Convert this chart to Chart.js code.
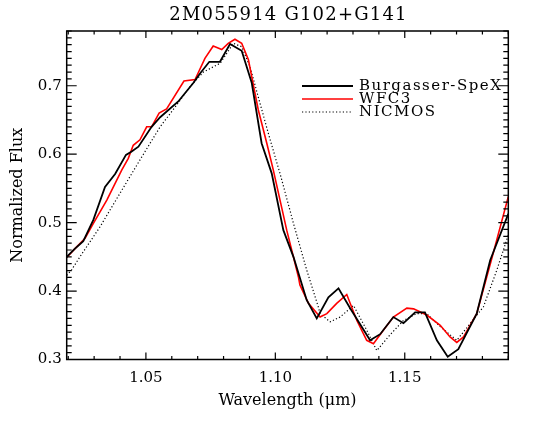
<!DOCTYPE html>
<html>
<head>
<meta charset="utf-8">
<script src="https://cdn.jsdelivr.net/npm/chart.js@4"></script>
<style>
  html, body { margin: 0; padding: 0; background: #fff; }
  #wrap { width: 538px; height: 423px; }
</style>
</head>
<body>
<div id="wrap"><canvas id="c" width="538" height="423"></canvas></div>
<script>
// ---- data ----
const chartTitle = "2M055914 G102+G141";
const seriesNames = ["Burgasser-SpeX", "WFC3", "NICMOS"];

const wlSpex = [1.0194,1.0226,1.0258,1.0297,1.0342,1.0381,1.0423,1.0445,1.0471,1.0522,1.0555,1.0625,1.0683,1.0709,1.0745,1.0786,1.0825,1.0870,1.0909,1.0947,1.0986,1.1031,1.1070,1.1121,1.1160,1.1205,1.1244,1.1289,1.1366,1.1405,1.1456,1.1495,1.1540,1.1578,1.1624,1.1666,1.1707,1.1778,1.1830,1.1900];
const fluxSpex = [0.450,0.462,0.473,0.504,0.552,0.571,0.599,0.604,0.611,0.640,0.654,0.677,0.704,0.718,0.735,0.735,0.761,0.751,0.704,0.616,0.572,0.489,0.450,0.387,0.360,0.391,0.404,0.375,0.328,0.337,0.362,0.353,0.369,0.369,0.328,0.304,0.315,0.367,0.445,0.513];

const wlWfc3 = [1.0194,1.0226,1.0265,1.0297,1.0349,1.0407,1.0432,1.0451,1.0477,1.0503,1.0522,1.0551,1.0580,1.0647,1.0690,1.0728,1.0760,1.0793,1.0818,1.0844,1.0870,1.0896,1.0934,1.0967,1.0992,1.1044,1.1089,1.1095,1.1128,1.1173,1.1199,1.1237,1.1276,1.1315,1.1353,1.1379,1.1418,1.1456,1.1508,1.1534,1.1585,1.1637,1.1675,1.1701,1.1727,1.1778,1.1843,1.1900];
const fluxWfc3 = [0.449,0.462,0.477,0.499,0.533,0.577,0.594,0.613,0.621,0.640,0.640,0.660,0.666,0.707,0.709,0.740,0.758,0.753,0.762,0.768,0.762,0.738,0.665,0.616,0.577,0.489,0.421,0.409,0.382,0.362,0.367,0.382,0.395,0.357,0.328,0.323,0.343,0.362,0.375,0.374,0.365,0.350,0.333,0.325,0.333,0.367,0.457,0.538];

const wlNicmos = [1.0194,1.0213,1.0245,1.0323,1.0400,1.0484,1.0555,1.0619,1.0671,1.0722,1.0787,1.0838,1.0870,1.0902,1.0941,1.0980,1.1018,1.1070,1.1121,1.1166,1.1173,1.1212,1.1250,1.1302,1.1353,1.1392,1.1443,1.1495,1.1546,1.1585,1.1637,1.1701,1.1804,1.1856,1.1900];
const fluxNicmos = [0.423,0.431,0.450,0.494,0.543,0.596,0.640,0.672,0.699,0.720,0.733,0.762,0.757,0.728,0.674,0.621,0.572,0.499,0.431,0.377,0.367,0.355,0.362,0.379,0.343,0.313,0.336,0.357,0.367,0.367,0.348,0.328,0.377,0.431,0.482];

const xRange = [1.0194, 1.19];
const yRange = [0.30, 0.78];
const xTickLabels = [1.05, 1.10, 1.15];
const yTickLabels = [0.3, 0.4, 0.5, 0.6, 0.7];
const xMinorStep = 0.01;
const yMinorStep = 0.01;

const xTitle = "Wavelength (\u03BCm)";
const yTitle = "Normalized Flux";

function pts(xs, ys) { return xs.map((x, i) => ({x: x, y: ys[i]})); }

const SERIF = "'DejaVu Serif', serif";

// ---- plugins ----
const framePlugin = {
  id: 'frame',
  afterDatasetsDraw(chart) {
    const ctx = chart.ctx;
    const a = chart.chartArea;
    const xs = chart.scales.x, ys = chart.scales.y;
    ctx.save();
    ctx.strokeStyle = '#000';
    ctx.lineWidth = 1.5;
    ctx.strokeRect(a.left, a.top, a.right - a.left, a.bottom - a.top);
    ctx.lineWidth = 1.2;
    ctx.beginPath();
    // x ticks (bottom & top, inward)
    const nx0 = Math.ceil(xRange[0] / xMinorStep - 1e-6), nx1 = Math.floor(xRange[1] / xMinorStep + 1e-6);
    for (let n = nx0; n <= nx1; n++) {
      const v = n * xMinorStep;
      const major = xTickLabels.some(t => Math.abs(t - v) < 1e-6);
      const px = xs.getPixelForValue(v);
      const len = major ? 7 : 3.5;
      ctx.moveTo(px, a.bottom); ctx.lineTo(px, a.bottom - len);
      ctx.moveTo(px, a.top); ctx.lineTo(px, a.top + len);
    }
    // y ticks (left & right, inward)
    const ny0 = Math.ceil(yRange[0] / yMinorStep - 1e-6), ny1 = Math.floor(yRange[1] / yMinorStep + 1e-6);
    for (let n = ny0; n <= ny1; n++) {
      const v = n * yMinorStep;
      const major = yTickLabels.some(t => Math.abs(t - v) < 1e-6);
      const py = ys.getPixelForValue(v);
      const len = major ? 10 : 5;
      ctx.moveTo(a.left, py); ctx.lineTo(a.left + len, py);
      ctx.moveTo(a.right, py); ctx.lineTo(a.right - len, py);
    }
    ctx.stroke();
    ctx.restore();
  },
  afterDraw(chart) {
    const ctx = chart.ctx;
    const a = chart.chartArea;
    ctx.save();
    // title
    ctx.fillStyle = '#000';
    ctx.font = "18px " + SERIF;
    try { ctx.letterSpacing = '1.2px'; } catch (e) {}
    ctx.textAlign = 'center';
    ctx.textBaseline = 'middle';
    ctx.fillText(chartTitle, (a.left + a.right) / 2 + 1, 15);
    // legend
    ctx.font = "15px " + SERIF;
    try { ctx.letterSpacing = '1.5px'; } catch (e) {}
    ctx.textAlign = 'left';
    const rows = [86, 99, 112];
    chart.data.datasets.forEach((ds, i) => {
      const y = rows[i];
      ctx.beginPath();
      ctx.strokeStyle = ds.borderColor;
      ctx.lineWidth = ds.borderWidth;
      ctx.setLineDash(ds.borderDash || []);
      ctx.moveTo(302, y); ctx.lineTo(353, y);
      ctx.stroke();
      ctx.setLineDash([]);
      ctx.fillStyle = '#000';
      ctx.fillText(ds.label, 359, y);
    });
    ctx.restore();
  }
};

new Chart(document.getElementById('c'), {
  type: 'line',
  data: {
    datasets: [
      { label: seriesNames[0], data: pts(wlSpex, fluxSpex), borderColor: '#000000', borderWidth: 1.8, pointRadius: 0, tension: 0, fill: false },
      { label: seriesNames[1], data: pts(wlWfc3, fluxWfc3), borderColor: '#ff0000', borderWidth: 1.6, pointRadius: 0, tension: 0, fill: false },
      { label: seriesNames[2], data: pts(wlNicmos, fluxNicmos), borderColor: '#000000', borderWidth: 1.2, borderDash: [1.2, 2.2], pointRadius: 0, tension: 0, fill: false }
    ]
  },
  options: {
    responsive: false,
    animation: false,
    devicePixelRatio: 1,
    layout: { padding: { left: 0, right: 29.7, top: 31, bottom: 0 } },
    plugins: { legend: { display: false }, title: { display: false }, tooltip: { enabled: false } },
    scales: {
      x: {
        type: 'linear',
        min: xRange[0], max: xRange[1],
        grid: { display: false, drawTicks: false },
        border: { display: false },
        afterBuildTicks(s) { s.ticks = xTickLabels.map(v => ({ value: v })); },
        afterFit(s) { s.height = 63.5; },
        ticks: {
          color: '#000', padding: 10, maxRotation: 0, autoSkip: false,
          font: { family: SERIF, size: 15 },
          callback: v => Number(v).toFixed(2)
        },
        title: { display: true, text: xTitle, color: '#000', font: { family: SERIF, size: 16 }, padding: { top: 0, bottom: 13 } }
      },
      y: {
        type: 'linear',
        min: yRange[0], max: yRange[1],
        grid: { display: false, drawTicks: false },
        border: { display: false },
        afterBuildTicks(s) { s.ticks = yTickLabels.map(v => ({ value: v })); },
        afterFit(s) { s.width = 66.7; },
        ticks: {
          color: '#000', padding: 5, autoSkip: false,
          font: { family: SERIF, size: 15 },
          callback: v => Number(v).toFixed(1)
        },
        title: { display: true, text: yTitle, color: '#000', font: { family: SERIF, size: 16 }, padding: { top: 8, bottom: 0 } }
      }
    }
  },
  plugins: [framePlugin]
});
</script>
</body>
</html>
